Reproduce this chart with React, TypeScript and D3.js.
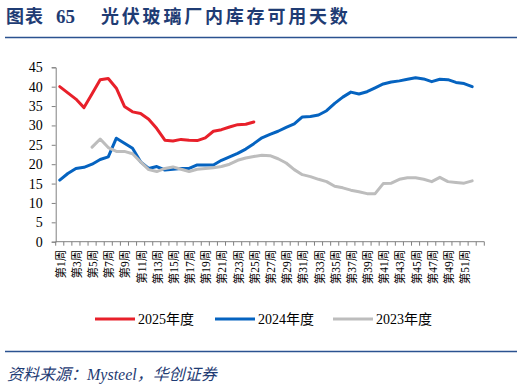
import { useEffect, useRef } from "react";
import * as d3 from "d3";

// week categories (x axis)
const weeks = [
  "第1周", "第2周", "第3周", "第4周", "第5周", "第6周", "第7周", "第8周", "第9周", "第10周",
  "第11周", "第12周", "第13周", "第14周", "第15周", "第16周", "第17周", "第18周", "第19周", "第20周",
  "第21周", "第22周", "第23周", "第24周", "第25周", "第26周", "第27周", "第28周", "第29周", "第30周",
  "第31周", "第32周", "第33周", "第34周", "第35周", "第36周", "第37周", "第38周", "第39周", "第40周",
  "第41周", "第42周", "第43周", "第44周", "第45周", "第46周", "第47周", "第48周", "第49周", "第50周",
  "第51周", "第52周", "第53周",
];

// labels shown under the axis (every other week)
const weekLabels = [
  "第1周", "第3周", "第5周", "第7周", "第9周", "第11周", "第13周", "第15周", "第17周", "第19周",
  "第21周", "第23周", "第25周", "第27周", "第29周", "第31周", "第33周", "第35周", "第37周", "第39周",
  "第41周", "第43周", "第45周", "第47周", "第49周", "第51周",
];

const yTicks = [0, 5, 10, 15, 20, 25, 30, 35, 40, 45];

// 2025年度, weeks 1-25
const days2025 = [
  40.0, 38.4, 36.8, 34.6, 38.2, 41.8, 42.1, 39.6, 34.9, 33.5,
  33.1, 31.6, 29.2, 26.2, 26.0, 26.4, 26.2, 26.1, 26.8, 28.5,
  28.9, 29.6, 30.2, 30.3, 30.9,
];

// 2024年度, weeks 1-52
const days2024 = [
  15.9, 17.6, 18.9, 19.2, 20.0, 21.2, 21.9, 26.7, 25.4, 24.1,
  20.6, 18.9, 19.4, 18.5, 18.7, 18.9, 18.9, 19.8, 19.8, 19.8,
  21.0, 21.9, 22.8, 23.9, 25.3, 26.8, 27.7, 28.5, 29.5, 30.4,
  32.2, 32.3, 32.7, 33.8, 35.7, 37.3, 38.6, 38.1, 38.7, 39.7,
  40.7, 41.2, 41.5, 41.9, 42.3, 42.0, 41.3, 41.9, 41.8, 41.1,
  40.8, 40.0,
];

// 2023年度, weeks 1-52 (no data for weeks 1-4)
const days2023 = [
  null, null, null, null, 24.4, 26.5, 24.3, 23.3, 23.3, 22.7,
  20.6, 18.6, 18.1, 18.9, 19.3, 18.7, 18.1, 18.7, 18.9, 19.1,
  19.4, 20.0, 21.0, 21.6, 22.0, 22.3, 22.2, 21.4, 20.3, 18.6,
  17.3, 16.8, 16.1, 15.5, 14.3, 13.9, 13.3, 12.9, 12.4, 12.4,
  15.0, 15.1, 16.1, 16.5, 16.5, 16.1, 15.5, 16.6, 15.5, 15.3,
  15.1, 15.7,
];

const seriesNames = ["2025年度", "2024年度", "2023年度"];
const seriesColors = ["#E8202A", "#0563C0", "#BDBDBD"];

const serif = "'Liberation Serif', 'Times New Roman', 'Noto Sans CJK SC', serif";
const navy = "#1F3C74";

const App = () => {
  const ref = useRef<SVGSVGElement | null>(null);

  useEffect(() => {
    const svg = d3.select(ref.current);
    svg.selectAll("*").remove();

    const width = 524;
    const height = 389;
    const left = 55.7;
    const right = 484.3;
    const top = 67.3;
    const bottom = 241.7;

    svg.append("rect").attr("width", width).attr("height", height).attr("fill", "#fff");

    // title
    const title = svg.append("text")
      .attr("x", 6)
      .attr("y", 23)
      .attr("fill", navy)
      .attr("font-weight", "bold")
      .attr("font-size", 18)
      .attr("font-family", "'Noto Sans CJK SC', sans-serif");
    title.append("tspan").attr("letter-spacing", 1).text("图表");
    title.append("tspan").attr("x", 56).attr("font-family", serif).attr("font-size", 19).text("65");
    title.append("tspan").attr("x", 101).attr("letter-spacing", 2.8).text("光伏玻璃厂内库存可用天数");

    svg.append("line")
      .attr("x1", 5).attr("x2", 517).attr("y1", 37.5).attr("y2", 37.5)
      .attr("stroke", "#2B5290").attr("stroke-width", 1.5);

    svg.append("line")
      .attr("x1", 5).attr("x2", 517).attr("y1", 351.5).attr("y2", 351.5)
      .attr("stroke", "#2B5290").attr("stroke-width", 1.5);

    svg.append("text")
      .attr("x", 7)
      .attr("y", 380)
      .attr("fill", navy)
      .attr("font-style", "italic")
      .attr("font-size", 16)
      .attr("font-family", serif)
      .text("资料来源：Mysteel，华创证券");

    // scales
    const x = d3.scaleBand<string>().domain(weeks).range([left, right]);
    const y = d3.scaleLinear().domain([0, 45]).range([bottom, top]);
    const cx = (i: number) => (x(weeks[i]) as number) + x.bandwidth() / 2;

    // y axis
    const yAxis = svg.append("g")
      .attr("transform", `translate(${left},0)`)
      .call(d3.axisLeft(y).tickValues(yTicks).tickSize(4).tickPadding(9));
    yAxis.select(".domain").attr("stroke", "#808080");
    yAxis.selectAll(".tick line").attr("stroke", "#808080");
    yAxis.selectAll(".tick text")
      .attr("font-family", serif)
      .attr("font-size", 14)
      .attr("fill", "#000");

    // x axis, ticks between categories
    const g = svg.append("g");
    g.append("line")
      .attr("x1", left).attr("x2", right).attr("y1", bottom).attr("y2", bottom)
      .attr("stroke", "#808080");
    g.selectAll("line.xt")
      .data(weeks.concat([""]))
      .enter()
      .append("line")
      .attr("class", "xt")
      .attr("x1", (d, i) => left + i * x.step())
      .attr("x2", (d, i) => left + i * x.step())
      .attr("y1", bottom)
      .attr("y2", bottom + 4)
      .attr("stroke", "#808080");

    g.selectAll("text.xl")
      .data(weekLabels)
      .enter()
      .append("text")
      .attr("class", "xl")
      .attr("transform", (d) => `translate(${(x(d) as number) + x.bandwidth() / 2 + 1},${bottom + 8}) rotate(-90)`)
      .attr("text-anchor", "end")
      .attr("dominant-baseline", "central")
      .attr("font-family", serif)
      .attr("font-size", 11.5)
      .attr("fill", "#000")
      .text((d) => d);

    // lines
    const line = d3.line<number | null>()
      .defined((d) => d !== null)
      .x((d, i) => cx(i))
      .y((d) => y(d as number));

    [days2025, days2024, days2023].forEach((vals, k) => {
      svg.append("path")
        .datum(vals)
        .attr("d", line)
        .attr("fill", "none")
        .attr("stroke", seriesColors[k])
        .attr("stroke-width", 3)
        .attr("stroke-linejoin", "round")
        .attr("stroke-linecap", "round");
    });

    // legend
    const legendX = [95, 215, 333];
    seriesNames.forEach((name, k) => {
      svg.append("line")
        .attr("x1", legendX[k]).attr("x2", legendX[k] + 40)
        .attr("y1", 319).attr("y2", 319)
        .attr("stroke", seriesColors[k])
        .attr("stroke-width", 3);
      svg.append("text")
        .attr("x", legendX[k] + 43)
        .attr("y", 319)
        .attr("dominant-baseline", "central")
        .attr("font-family", serif)
        .attr("font-size", 14)
        .attr("fill", "#000")
        .text(name);
    });
  }, []);

  return (
    <svg
      ref={ref}
      width={524}
      height={389}
      style={{ position: "absolute", left: 0, top: 0, display: "block" }}
    />
  );
};

export default App;
